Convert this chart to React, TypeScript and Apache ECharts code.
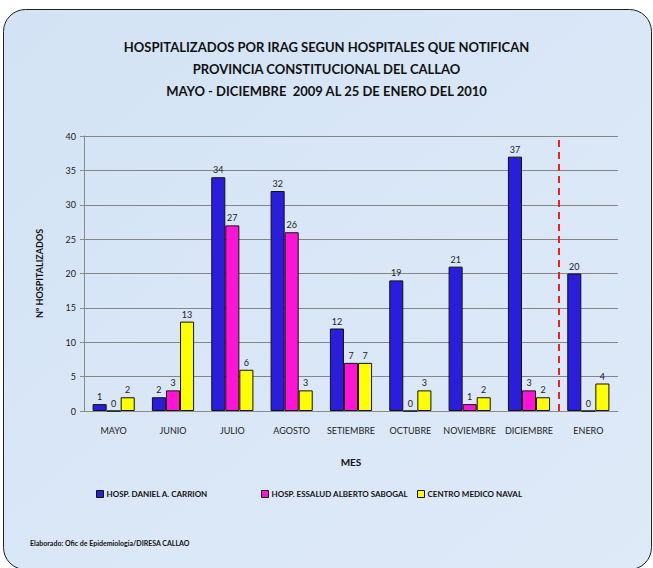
import React, { useEffect, useRef } from "react";
import * as echarts from "echarts";

const months = ["MAYO", "JUNIO", "JULIO", "AGOSTO", "SETIEMBRE", "OCTUBRE", "NOVIEMBRE", "DICIEMBRE", "ENERO"];
const carrion = [1, 2, 34, 32, 12, 19, 21, 37, 20];
const sabogal = [0, 3, 27, 26, 7, 0, 1, 3, 0];
const naval = [2, 13, 6, 3, 7, 3, 2, 2, 4];
const seriesNames = ["HOSP. DANIEL A. CARRION", "HOSP. ESSALUD ALBERTO SABOGAL", "CENTRO MEDICO NAVAL"];
const colors = ["#2A1DDC", "#FF14D6", "#FFFF00"];
const dividerIndex = 8;

export default function App() {
  const ref = useRef<HTMLDivElement>(null);
  useEffect(() => {
    document.body.style.margin = "0";
    const chart = echarts.init(ref.current!, null, { renderer: "svg" });
    const font = "Lato, 'Open Sans', sans-serif";
    const values = [carrion, sabogal, naval];
    const barSeries = values.map((d, i) => ({
      name: seriesNames[i],
      type: "bar",
      data: d,
      barGap: "0%",
      barCategoryGap: "29%",
      itemStyle: { color: colors[i], borderColor: "#111", borderWidth: 1 },
      label: { show: true, position: "top", distance: 3, fontSize: 9, color: "#222", fontFamily: font },
    }));
    const legendLefts = [96, 261, 417];
    chart.setOption({
      animation: false,
      graphic: [
        {
          type: "rect",
          z: -10,
          shape: { x: 3.5, y: 9.5, width: 648, height: 560, r: 22 },
          style: {
            fill: {
              type: "linear", x: 0, y: 0, x2: 1, y2: 1,
              colorStops: [{ offset: 0, color: "#d3e3f5" }, { offset: 1, color: "#dfeaf8" }],
            },
            stroke: "#222",
            lineWidth: 1,
          },
        },
        {
          type: "text",
          left: 30,
          top: 539,
          style: { text: "Elaborado: Ofic de Epidemiologia/DIRESA CALLAO", font: `bold 7px ${font}`, fill: "#111" },
        },
      ],
      title: {
        text: "HOSPITALIZADOS POR IRAG SEGUN HOSPITALES QUE NOTIFICAN\nPROVINCIA CONSTITUCIONAL DEL CALLAO\nMAYO - DICIEMBRE  2009 AL 25 DE ENERO DEL 2010",
        left: "center",
        top: 31,
        textStyle: { fontSize: 13, fontWeight: "bold", fontFamily: font, lineHeight: 22, color: "#111" },
      },
      legend: legendLefts.map((l, i) => ({
        data: [seriesNames[i]],
        left: l,
        top: 490,
        padding: 0,
        itemWidth: 7,
        itemHeight: 7,
        itemGap: 4,
        icon: "rect",
        textStyle: { fontSize: 8, fontWeight: "bold", fontFamily: font, color: "#111", padding: [0, 0, 0, -2] },
        itemStyle: { borderColor: "#111", borderWidth: 1 },
      })),
      grid: { left: 84, right: 35, top: 136, bottom: 157 },
      xAxis: [
        {
          type: "category",
          data: months,
          axisLine: { lineStyle: { color: "#8a8a8a" } },
          axisTick: { show: false },
          axisLabel: { fontSize: 9, color: "#222", margin: 15, fontFamily: font, interval: 0 },
          name: "MES",
          nameLocation: "middle",
          nameGap: 46,
          nameTextStyle: { fontSize: 10, fontWeight: "bold", color: "#111", fontFamily: font },
        },
        { type: "value", min: 0, max: months.length, show: false },
      ],
      yAxis: {
        type: "value",
        min: 0,
        max: 40,
        interval: 5,
        axisLine: { show: true, lineStyle: { color: "#8a8a8a" } },
        axisTick: { show: true, length: 4, lineStyle: { color: "#8a8a8a" } },
        axisLabel: { fontSize: 9, color: "#222", margin: 8, fontFamily: font },
        splitLine: { lineStyle: { color: "#858585" } },
        name: "Nº HOSPITALIZADOS",
        nameLocation: "middle",
        nameGap: 40,
        nameTextStyle: { fontSize: 9, fontWeight: "bold", color: "#111", fontFamily: font },
      },
      series: [
        ...barSeries,
        {
          type: "line",
          xAxisIndex: 1,
          data: [],
          silent: true,
          markLine: {
            symbol: "none",
            silent: true,
            label: { show: false },
            lineStyle: { color: "#ff1a1a", type: [7, 5], width: 2 },
            data: [{ xAxis: dividerIndex }],
          },
        },
      ],
    });
    return () => chart.dispose();
  }, []);
  return <div ref={ref} style={{ width: 653, height: 568, position: "absolute", left: 0, top: 0 }} />;
}
